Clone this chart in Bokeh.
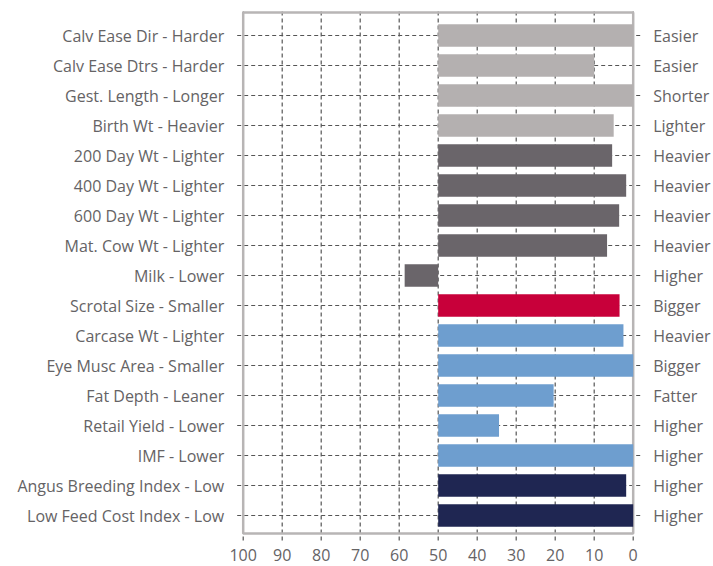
from bokeh.plotting import figure
from bokeh.models import Range1d
from bokeh.core.properties import value
from bokeh.embed import file_html
from bokeh.resources import INLINE

left_labels = ["Calv Ease Dir - Harder", "Calv Ease Dtrs - Harder", "Gest. Length - Longer",
               "Birth Wt - Heavier", "200 Day Wt - Lighter", "400 Day Wt - Lighter",
               "600 Day Wt - Lighter", "Mat. Cow Wt - Lighter", "Milk - Lower",
               "Scrotal Size - Smaller", "Carcase Wt - Lighter", "Eye Musc Area - Smaller",
               "Fat Depth - Leaner", "Retail Yield - Lower", "IMF - Lower",
               "Angus Breeding Index - Low", "Low Feed Cost Index - Low"]
right_labels = ["Easier", "Easier", "Shorter", "Lighter", "Heavier", "Heavier", "Heavier",
                "Heavier", "Higher", "Bigger", "Heavier", "Bigger", "Fatter", "Higher",
                "Higher", "Higher", "Higher"]
values = [0, 10, 0, 5, 5.4, 1.8, 3.6, 6.7, 58.6, 3.5, 2.5, 0, 20.4, 34.4, 0, 1.8, 0]
groups = ["calving"] * 4 + ["growth"] * 5 + ["fertility"] + ["carcase"] * 5 + ["index"] * 2
x_ticks = [0, 10, 20, 30, 40, 50, 60, 70, 80, 90, 100]
x_tick_labels = [str(t) for t in x_ticks]
base = 50

group_colors = {"calving": "#b4b0b0", "growth": "#6a656a", "fertility": "#c8003a",
                "carcase": "#6e9ecf", "index": "#1f2652"}

n = len(left_labels)
ypos = [n - 1 - i for i in range(n)]
colors = [group_colors[g] for g in groups]

W, H = 713, 566
# layout (data units): x axis reversed 100 -> 0, rows one unit apart
X_LEFT, X_RIGHT = 162.23, -20.59
Y_BOT, Y_TOP = -1.7, n - 1 + 1.167
FRAME_TOP, FRAME_BOT = n - 1 + 0.767, -0.6
GRID_TOP, GRID_BOT = n - 1 + 0.9, -0.83
GRID_L, GRID_R = 101.54, -1.87
TICK_Y = -1.33

p = figure(width=W, height=H, output_backend="svg", toolbar_location=None,
           x_range=Range1d(X_LEFT, X_RIGHT), y_range=Range1d(Y_BOT, Y_TOP),
           min_border=0)
p.outline_line_color = None
p.axis.visible = False
p.grid.visible = False

text_color = "#656365"
font = value("Open Sans")
grid_color = "#555555"

# dashed grid lines (extend a little past the frame)
p.segment(x0=x_ticks, x1=x_ticks, y0=[GRID_BOT] * len(x_ticks), y1=[GRID_TOP] * len(x_ticks),
          line_color=grid_color, line_dash="4 3", line_width=1.2)
p.segment(x0=[GRID_L] * n, x1=[GRID_R] * n, y0=ypos, y1=ypos,
          line_color=grid_color, line_dash="4 3", line_width=1.2)

# frame
p.quad(left=100, right=0, bottom=FRAME_BOT, top=FRAME_TOP, fill_color=None,
       line_color="#b8b5b5", line_width=2.5)

# bars
p.hbar(y=ypos, left=base, right=values, height=0.75, fill_color=colors, line_color=None)

# labels
p.text(x=[100] * n, y=ypos, text=left_labels, x_offset=-19, text_align="right",
       text_baseline="middle", text_font=font, text_font_size="16px", text_color=text_color)
p.text(x=[0] * n, y=ypos, text=right_labels, x_offset=20, text_align="left",
       text_baseline="middle", text_font=font, text_font_size="16px", text_color=text_color)
p.text(x=x_ticks, y=[TICK_Y] * len(x_ticks), text=x_tick_labels, text_align="center",
       text_baseline="middle", text_font=font, text_font_size="16px", text_color=text_color)

open("out.html", "w").write(file_html(p, INLINE))
